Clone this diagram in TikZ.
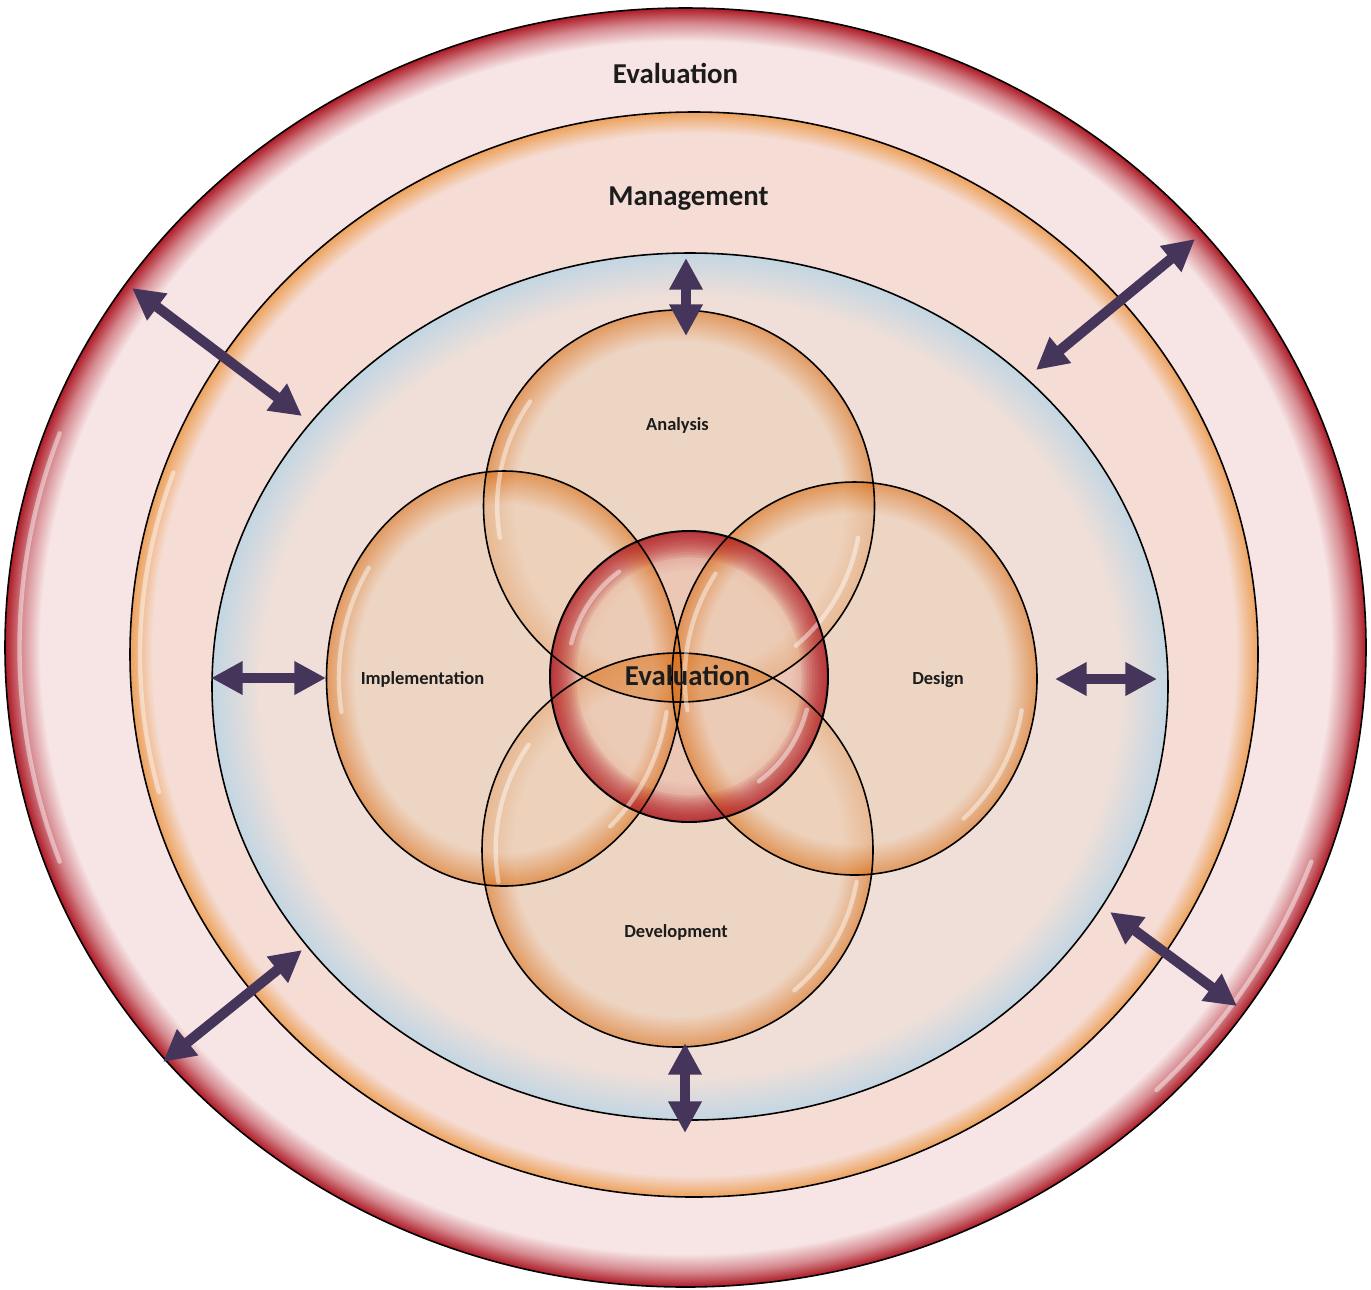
\documentclass[tikz,border=0pt]{standalone}
\usepackage{fontspec}
\setmainfont{Carlito}
\usetikzlibrary{arrows.meta}

\definecolor{ringpink}{HTML}{F7E5E6}
\definecolor{rimred}{HTML}{AD1A26}
\definecolor{mgmtfill}{HTML}{F5DDD6}
\definecolor{rimorange}{HTML}{EDA25C}
\definecolor{innerfill}{HTML}{EFDFD8}
\definecolor{rimblue}{HTML}{C3D6E3}
\definecolor{petalfill}{HTML}{EDCFB6}
\definecolor{petalrim}{HTML}{D96C12}
\definecolor{evalfill}{HTML}{EBBDB8}
\definecolor{evalrim}{HTML}{B0141F}
\definecolor{arrowcol}{HTML}{46355A}
\definecolor{labelcol}{HTML}{1C1C1C}

\pgfdeclareradialshading{outershade}{\pgfpoint{0bp}{0bp}}{color(0bp)=(ringpink); color(23.7bp)=(ringpink); color(24.4bp)=(rimred!45!ringpink); color(25bp)=(rimred); color(50bp)=(rimred)}
\pgfdeclareradialshading{mgmtshade}{\pgfpoint{0bp}{0bp}}{color(0bp)=(mgmtfill); color(24bp)=(mgmtfill); color(25bp)=(rimorange); color(50bp)=(rimorange)}
\pgfdeclareradialshading{innershade}{\pgfpoint{0bp}{0bp}}{color(0bp)=(innerfill); color(22.5bp)=(innerfill); color(25bp)=(rimblue); color(50bp)=(rimblue)}
\pgfdeclareradialshading{petalshade}{\pgfpoint{0bp}{0bp}}{color(0bp)=(petalfill); color(21bp)=(petalfill); color(25bp)=(petalrim); color(50bp)=(petalrim)}
\pgfdeclareradialshading{evalshade}{\pgfpoint{0bp}{0bp}}{color(0bp)=(evalfill); color(18bp)=(evalfill); color(25bp)=(evalrim); color(50bp)=(evalrim)}

% centre / radii of the four phases
\newcommand{\phaselist}{679/506/195.5/196, 677.5/850/195.5/197, 504/678.5/177.5/207.5, 854.5/678.5/182.5/196.5}

\begin{document}
\begin{tikzpicture}[x=0.02cm,y=-0.02cm,
	outline/.style={draw=black,line width=0.9pt},
	petal/.style={shading=petalshade,fill opacity=0.6},
	gloss/.style={white,line width=2.5pt,opacity=0.45,line cap=round},
	dblarrow/.style={{Triangle[length=18pt,width=18pt]}-{Triangle[length=18pt,width=18pt]},line width=5.8pt,draw=arrowcol},
	biglabel/.style={anchor=base,inner sep=0pt,text=labelcol,font=\bfseries\fontsize{16.4}{18}\selectfont},
	smalllabel/.style={anchor=base,inner sep=0pt,text=labelcol,font=\bfseries\fontsize{10.5}{12}\selectfont}]

\useasboundingbox[fill=white] (0,0) rectangle (1371,1289);

%rings
\shade[outline,shading=outershade] (685.5,647.5) ellipse [x radius=680.5, y radius=639.5];
\draw[gloss] (685.5,647.5) ++(160:{666} and {626}) arc[start angle=160,end angle=200,x radius=666,y radius=626];
\draw[gloss] (685.5,647.5) ++(20:{666} and {626}) arc[start angle=20,end angle=45,x radius=666,y radius=626];
\shade[outline,shading=mgmtshade] (694,654.5) ellipse [x radius=564, y radius=542.5];
\draw[gloss] (694,654.5) ++(165:{554} and {532}) arc[start angle=165,end angle=200,x radius=554,y radius=532];
\shade[outline,shading=innershade] (690,686.5) ellipse [x radius=478, y radius=433.5];

%core evaluation under the phases
\shade[shading=evalshade] (689,676.5) ellipse [x radius=139, y radius=145.5];

%phases
\foreach \cx/\cy/\rx/\ry in \phaselist
{
	\shade[petal] (\cx,\cy) ellipse [x radius=\rx, y radius=\ry];
}

%lens of analysis and development
\begin{scope}
	\clip (679,506) ellipse [x radius=195.5, y radius=196];
	\fill[petalrim,opacity=0.4] (677.5,850) ellipse [x radius=195.5, y radius=197];
\end{scope}

%red rim of the core shows through
\begin{scope}
	\clip (689,676.5) ellipse [x radius=139, y radius=145.5];
	\foreach \w in {3,6,...,30}
	{
		\draw[evalrim,line width=\w pt,opacity=0.1] (689,676.5) ellipse [x radius=139, y radius=145.5];
	}
\end{scope}

%outlines and gloss on top
\foreach \cx/\cy/\rx/\ry in \phaselist
{
	\draw[outline] (\cx,\cy) ellipse [x radius=\rx, y radius=\ry];
	\draw[gloss] (\cx,\cy) ++(170:{0.93*\rx} and {0.93*\ry}) arc[start angle=170,end angle=215,x radius=0.93*\rx,y radius=0.93*\ry];
	\draw[gloss] (\cx,\cy) ++(10:{0.93*\rx} and {0.93*\ry}) arc[start angle=10,end angle=50,x radius=0.93*\rx,y radius=0.93*\ry];
}
\draw[outline,line width=1.1pt] (689,676.5) ellipse [x radius=139, y radius=145.5];
\draw[gloss] (689,676.5) ++(195:{122} and {128}) arc[start angle=195,end angle=235,x radius=122,y radius=128];
\draw[gloss] (689,676.5) ++(15:{122} and {128}) arc[start angle=15,end angle=55,x radius=122,y radius=128];

%arrow ends
\coordinate (topIn) at (686,258);
\coordinate (topOut) at (686,336);
\coordinate (botIn) at (685,1043);
\coordinate (botOut) at (685,1133);
\coordinate (leftOut) at (211,678);
\coordinate (leftIn) at (326,678);
\coordinate (rightIn) at (1055,679);
\coordinate (rightOut) at (1157,679);
\coordinate (ulOut) at (132,288);
\coordinate (ulIn) at (302,416);
\coordinate (urOut) at (1195,239);
\coordinate (urIn) at (1036,370);
\coordinate (llOut) at (163,1062);
\coordinate (llIn) at (302,950);
\coordinate (lrIn) at (1110,912);
\coordinate (lrOut) at (1237,1006);

\foreach \a/\b in {topIn/topOut, botIn/botOut, leftOut/leftIn, rightIn/rightOut, ulOut/ulIn, urOut/urIn, llOut/llIn, lrIn/lrOut}
{
	\draw[dblarrow] (\a)--(\b);
}

%labels
\node[biglabel] (evalOuter) at (675.5,83.5) {Evaluation};
\node[biglabel] (mgmt) at (688.5,205) {Management};
\node[biglabel] (evalCore) at (687.5,685) {Evaluation};
\node[smalllabel] (analysisLbl) at (677.5,430) {Analysis};
\node[smalllabel] (implLbl) at (422.5,684) {Implementation};
\node[smalllabel] (designLbl) at (938,684) {Design};
\node[smalllabel] (devLbl) at (676,937) {Development};
\end{tikzpicture}
\end{document}
